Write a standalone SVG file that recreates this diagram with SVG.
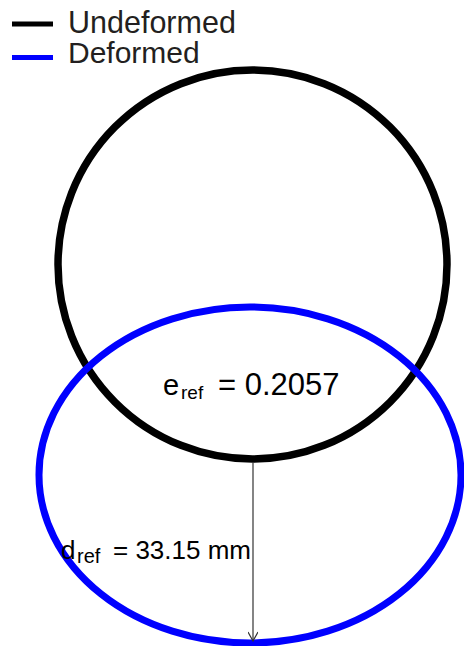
<svg xmlns="http://www.w3.org/2000/svg" width="464" height="646" viewBox="0 0 464 646">
<style>
.t{font-family:"Liberation Sans",Arial,sans-serif;fill:#231f20}
.lab{font-family:"Liberation Sans",Arial,sans-serif;fill:#000}
</style>
<defs>
<marker id="ah" markerWidth="12" markerHeight="10" refX="10" refY="5" orient="auto" markerUnits="userSpaceOnUse">
<path d="M1,0 L10,5 L1,10" fill="none" stroke="#333" stroke-width="1.2"/>
</marker>
</defs>
<rect width="464" height="646" fill="#fff"/>
<g id="legend">
<line x1="12" y1="24" x2="53" y2="24" stroke="#000" stroke-width="5"/>
<text class="t" x="68" y="33" font-size="30.5">Undeformed</text>
<line x1="12" y1="57.5" x2="53" y2="57.5" stroke="#0000ff" stroke-width="5"/>
<text class="t" x="68" y="63" font-size="30">Deformed</text>
</g>
<g id="undeformed">
<circle cx="252.5" cy="264.5" r="194.5" fill="none" stroke="#000" stroke-width="7.5"/>
</g>
<g id="deformed">
<ellipse cx="250" cy="475" rx="211" ry="168" fill="none" stroke="#0000ff" stroke-width="7"/>
</g>
<g id="connectors">
<line x1="253" y1="462" x2="253" y2="641" stroke="#333" stroke-width="1.2" marker-end="url(#ah)"/>
</g>
<g id="labels">
<text class="lab" x="163" y="395" font-size="29">e</text>
<text class="lab" x="181" y="399" font-size="19">ref</text>
<text class="lab" x="218" y="395" font-size="31">= 0.2057</text>
<text class="lab" x="61" y="559" font-size="26">d</text>
<text class="lab" x="77" y="563" font-size="20">ref</text>
<text class="lab" x="113" y="559" font-size="26">= 33.15 mm</text>
</g>
</svg>
